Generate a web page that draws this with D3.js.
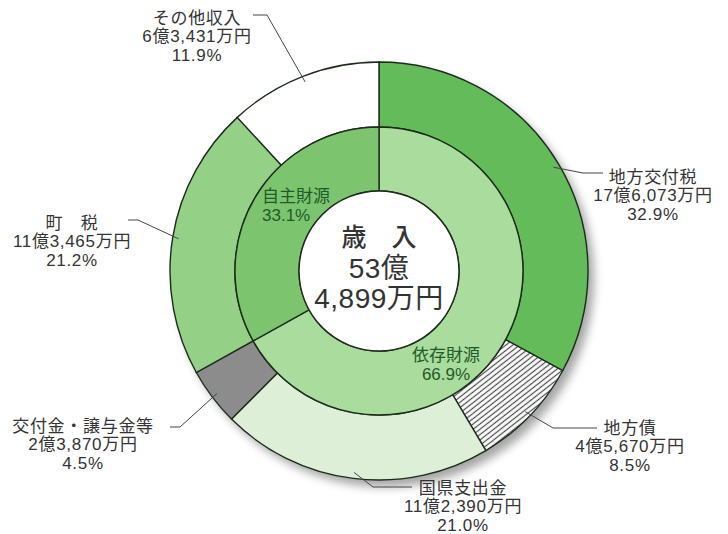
<!DOCTYPE html>
<html>
<head>
<meta charset="utf-8">
<script src="https://cdn.jsdelivr.net/npm/d3@7"></script>
<style>
  body { margin: 0; background: #fff; }
  text { font-family: "Liberation Sans", "Noto Sans CJK JP", sans-serif; }
</style>
</head>
<body>
<div id="chart"></div>
<script>
// OUTER RING: REVENUE ITEMS (UNIT: 万円), CLOCKWISE FROM 12 O'CLOCK
var outerNames = ['地方交付税', '地方債', '国県支出金', '交付金・譲与金等', '町　税', 'その他収入'];
var outerAmounts = [176073, 45670, 112390, 23870, 113465, 63431];
var outerPct = [32.9, 8.5, 21.0, 4.5, 21.2, 11.9];
var outerGroup = ['依存財源', '依存財源', '依存財源', '依存財源', '自主財源', '自主財源'];

// INNER RING
var innerNames = ['依存財源', '自主財源'];
var innerPct = [66.9, 33.1];

var centerTitle = '歳　入';

var W = 728, H = 534;
var cx = 379, cy = 271;
var rOuter = 209, rMid = 144, rHole = 80;

var outerColor = d3.scaleOrdinal()
    .domain(outerNames)
    .range(['#63bb5a', 'url(#hatch)', '#ddf0d7', '#8c8c8c', '#94d086', '#ffffff']);
var innerColor = d3.scaleOrdinal()
    .domain(innerNames)
    .range(['#a9dc9d', '#7dc46e']);

// LABEL LAYOUT (ELBOW, LINE END, TEXT CENTER, FIRST BASELINE)
var labelLayout = [
    {elbow: [583, 173], end: [603, 173], tx: 653, ty: 183},
    {elbow: [553, 428], end: [597, 428], tx: 630, ty: 434},
    {elbow: [373, 487], end: [412, 487], tx: 463, ty: 494},
    {elbow: [180, 427], end: [170, 427], tx: 83, ty: 432},
    {elbow: [138, 220], end: [128, 220], tx: 72, ty: 229},
    {elbow: [267, 15], end: [253, 15], tx: 197, ty: 24}
];

function fmtOku(v) {
    var oku = Math.floor(v / 10000), man = v % 10000;
    return (oku > 0 ? oku + '億' : '') + d3.format(',')(man) + '万円';
}

var svg = d3.select('#chart').append('svg')
    .attr('width', W)
    .attr('height', H);

var defs = svg.append('defs');

var pat = defs.append('pattern')
    .attr('id', 'hatch')
    .attr('patternUnits', 'userSpaceOnUse')
    .attr('width', 4.2)
    .attr('height', 4.2)
    .attr('patternTransform', 'rotate(-38)');
pat.append('rect').attr('width', 4.2).attr('height', 4.2).attr('fill', '#fff');
pat.append('line')
    .attr('x1', 0).attr('y1', 2.1).attr('x2', 4.2).attr('y2', 2.1)
    .attr('stroke', '#4a4a4a').attr('stroke-width', 1.2);

var shadow = defs.append('filter')
    .attr('id', 'shadow')
    .attr('x', '-20%').attr('y', '-20%')
    .attr('width', '140%').attr('height', '140%');
shadow.append('feGaussianBlur').attr('stdDeviation', 5);

var g = svg.append('g').attr('transform', 'translate(' + cx + ',' + cy + ')');

// SHADOW BEHIND THE RING
g.append('circle')
    .attr('cx', 6).attr('cy', 7)
    .attr('r', rOuter)
    .attr('fill', '#000')
    .attr('opacity', 0.35)
    .attr('filter', 'url(#shadow)');

var pie = d3.pie().sort(null).value(function(d) { return d.value; });

var outerData = pie(outerNames.map(function(n, i) {
    return {name: n, value: outerAmounts[i], pct: outerPct[i], i: i};
}));

var innerTotals = innerNames.map(function(n, i) {
    return {name: n, pct: innerPct[i],
        value: d3.sum(outerAmounts.filter(function(v, j) { return outerGroup[j] == n; }))};
});
var innerData = pie(innerTotals);

var arcOuter = d3.arc().innerRadius(rMid).outerRadius(rOuter);
var arcInner = d3.arc().innerRadius(rHole).outerRadius(rMid);

g.append('g').selectAll('path')
    .data(outerData)
    .enter().append('path')
    .attr('d', arcOuter)
    .attr('fill', function(d) { return outerColor(d.data.name); })
    .attr('stroke', '#1d2b1d')
    .attr('stroke-width', 1.4);

g.append('g').selectAll('path')
    .data(innerData)
    .enter().append('path')
    .attr('d', arcInner)
    .attr('fill', function(d) { return innerColor(d.data.name); })
    .attr('stroke', '#1d2b1d')
    .attr('stroke-width', 1.4);

g.append('circle')
    .attr('r', rHole)
    .attr('fill', '#fff')
    .attr('stroke', '#1d2b1d')
    .attr('stroke-width', 1.4);

// CENTER TEXT
var total = d3.sum(outerAmounts);
var center = g.append('g').attr('fill', '#333').attr('text-anchor', 'middle');
center.append('text').attr('y', -25).attr('font-size', 25).attr('font-weight', 500)
    .text(centerTitle);
center.append('text').attr('y', 7).attr('font-size', 28).attr('letter-spacing', 0.5)
    .text(Math.floor(total / 10000) + '億');
center.append('text').attr('y', 37).attr('font-size', 28).attr('letter-spacing', 0.5)
    .text(d3.format(',')(total % 10000) + '万円');

// INNER RING LABELS
var innerPos = [[446, 361, 'middle'], [262, 202, 'start']];
innerData.forEach(function(d, i) {
    var lines = [d.data.name, d.data.pct.toFixed(1) + '%'];
    lines.forEach(function(s, k) {
        svg.append('text')
            .attr('x', innerPos[i][0]).attr('y', innerPos[i][1] + k * 19)
            .attr('text-anchor', innerPos[i][2])
            .attr('fill', '#1e5a2a')
            .attr('font-size', 17)
            .text(s);
    });
});

// OUTER LABELS WITH LEADER LINES
outerData.forEach(function(d, i) {
    var lay = labelLayout[i];
    var a = (d.startAngle + d.endAngle) / 2;
    var r0 = rOuter - 6;
    var p0 = [cx + r0 * Math.sin(a), cy - r0 * Math.cos(a)];
    svg.append('polyline')
        .attr('points', [p0, lay.elbow, lay.end].map(function(p) { return p.join(','); }).join(' '))
        .attr('fill', 'none')
        .attr('stroke', '#444')
        .attr('stroke-width', 1);

    var lines = [d.data.name, fmtOku(d.data.value), d.data.pct.toFixed(1) + '%'];
    lines.forEach(function(s, k) {
        svg.append('text')
            .attr('x', lay.tx)
            .attr('y', lay.ty + k * 18.3)
            .attr('text-anchor', 'middle')
            .attr('fill', '#333')
            .attr('font-size', 17)
            .attr('letter-spacing', 0.7)
            .text(s);
    });
});
</script>
</body>
</html>
